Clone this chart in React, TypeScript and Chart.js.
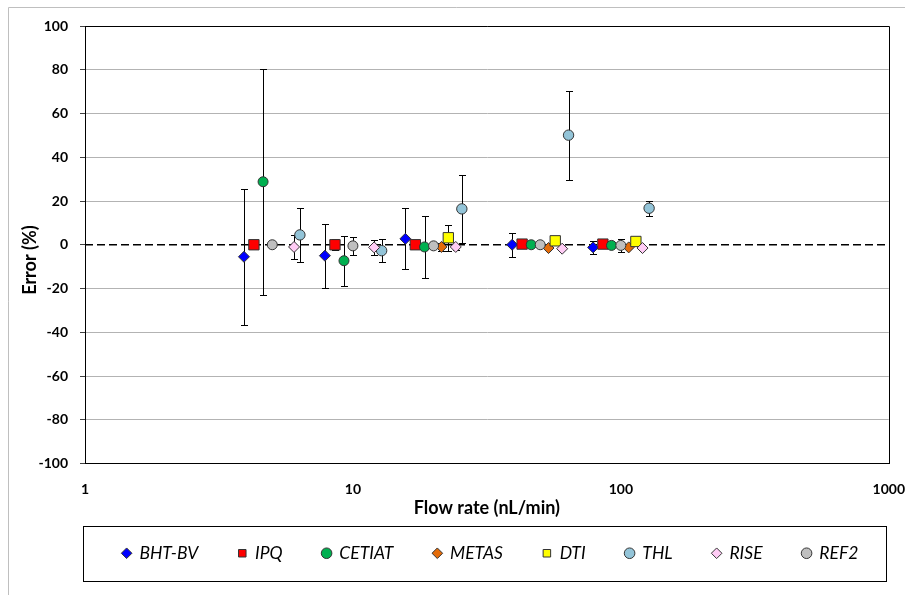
import React, { useEffect, useRef } from 'react';
import { Chart, registerables } from 'chart.js';

Chart.register(...registerables);

// ---------- data ----------
const seriesNames = ['BHT-BV', 'IPQ', 'CETIAT', 'METAS', 'DTI', 'THL', 'RISE', 'REF2'];

const bhtFlow = [3.92, 7.86, 15.7, 39.3, 78.8];
const bhtErr = [-5.5, -5, 2.7, 0, -1.2];
const bhtU = [31, 14.7, 13.9, 5.4, 3];

const ipqFlow = [4.27, 8.57, 17.1, 42.8, 85.7];
const ipqErr = [0, 0, 0, 0.3, 0.3];
const ipqU = [1.5, 2.6, 0, 0, 0];

const cetiatFlow = [4.62, 9.26, 18.5, 46.3, 92.3];
const cetiatErr = [28.8, -7.3, -1, 0, -0.3];
const cetiatU = [51.7, 11.4, 14, 0, 0];

const metasFlow = [21.4, 53.7, 107];
const metasErr = [-1, -1.5, -1.2];
const metasU = [2, 0, 0];

const dtiFlow = [22.7, 56.9, 113.8];
const dtiErr = [3.2, 1.8, 1.5];
const dtiU = [6, 0, 0];

const thlFlow = [6.34, 12.8, 25.5, 63.8, 127.5];
const thlErr = [4.5, -2.7, 16.4, 50.1, 16.7];
const thlU = [12.5, 5.3, 15.5, 20.4, 3.5];

const riseFlow = [6.03, 12, 24.2, 60.4, 120.5];
const riseErr = [-1, -1.2, -1, -1.8, -1.5];
const riseU = [5.3, 3.6, 1.5, 0, 0];

const ref2Flow = [5, 10, 20, 50, 100];
const ref2Err = [0, -0.5, -0.5, 0, -0.3];
const ref2U = [0, 4, 0, 0, 2.8];

const zeroLineFlow = [1, 1000];
const zeroLineErr = [0, 0];

const xTickValues = [1, 10, 100, 1000];
const yMin = -100;
const yMax = 100;
const yStep = 20;

const seriesFlows = [bhtFlow, ipqFlow, cetiatFlow, metasFlow, dtiFlow, thlFlow, riseFlow, ref2Flow];
const seriesErrs = [bhtErr, ipqErr, cetiatErr, metasErr, dtiErr, thlErr, riseErr, ref2Err];
const seriesUs = [bhtU, ipqU, cetiatU, metasU, dtiU, thlU, riseU, ref2U];

// ---------- styles ----------
const seriesStyles = [
  { pointStyle: 'rectRot', radius: 5.5, color: '#0000ff' },
  { pointStyle: 'rect', radius: 7.3, color: '#ff0000' },
  { pointStyle: 'circle', radius: 5, color: '#00b050' },
  { pointStyle: 'rectRot', radius: 5.5, color: '#e46c0a' },
  { pointStyle: 'rect', radius: 7.3, color: '#ffff00' },
  { pointStyle: 'circle', radius: 5.2, color: '#93c4d8' },
  { pointStyle: 'rectRot', radius: 5.5, color: '#ffccf5' },
  { pointStyle: 'circle', radius: 5, color: '#bfbfbf' },
];

const FONT = 'Lato, "Open Sans", "DejaVu Sans", sans-serif';
const W = 905;
const H = 595;

const errorBarPlugin = {
  id: 'errorBars',
  beforeDatasetsDraw(chart: any) {
    const { ctx, scales } = chart;
    const x = scales.x;
    const y = scales.y;
    ctx.save();
    const ca = chart.chartArea;
    ctx.strokeStyle = '#000';
    ctx.lineWidth = 1;
    ctx.beginPath();
    ctx.moveTo(Math.round(ca.left), Math.round(ca.top) + 0.5);
    ctx.lineTo(Math.round(ca.right) + 0.5, Math.round(ca.top) + 0.5);
    ctx.lineTo(Math.round(ca.right) + 0.5, Math.round(ca.bottom));
    ctx.stroke();
    chart.data.datasets.forEach((ds: any) => {
      if (!ds.uncert) return;
      ds.data.forEach((p: any, j: number) => {
        const u = ds.uncert[j];
        if (!u) return;
        const px = Math.round(x.getPixelForValue(p.x)) + 0.5;
        const yt = Math.round(y.getPixelForValue(p.y + u)) + 0.5;
        const yb = Math.round(y.getPixelForValue(p.y - u)) + 0.5;
        ctx.beginPath();
        ctx.moveTo(px, yt);
        ctx.lineTo(px, yb);
        ctx.moveTo(px - 3.5, yt);
        ctx.lineTo(px + 3.5, yt);
        ctx.moveTo(px - 3.5, yb);
        ctx.lineTo(px + 3.5, yb);
        ctx.stroke();
      });
    });
    ctx.restore();
  },
  afterLayout(chart: any) {
    const lg = chart.legend;
    if (lg) {
      lg.left += 38;
      lg.right += 38;
    }
  },
  afterDraw(chart: any) {
    const { ctx } = chart;
    ctx.save();
    ctx.strokeStyle = '#bfbfbf';
    ctx.lineWidth = 1;
    ctx.beginPath();
    ctx.moveTo(8.5, H);
    ctx.lineTo(8.5, 7.5);
    ctx.lineTo(W, 7.5);
    ctx.stroke();
    ctx.strokeStyle = '#000';
    ctx.strokeRect(83.5, 526.5, 803, 55);
    ctx.restore();
  },
};

export default function App() {
  const ref = useRef<HTMLCanvasElement | null>(null);

  useEffect(() => {
    if (!ref.current) return;
    const datasets: any[] = seriesNames.map((name, i) => ({
      type: 'scatter',
      label: name,
      data: seriesFlows[i].map((fx, j) => ({ x: fx, y: seriesErrs[i][j] })),
      uncert: seriesUs[i],
      pointStyle: seriesStyles[i].pointStyle,
      pointRadius: seriesStyles[i].radius,
      pointHoverRadius: seriesStyles[i].radius,
      backgroundColor: seriesStyles[i].color,
      borderColor: '#333333',
      borderWidth: 1,
      showLine: false,
      order: 10 - i,
    }));
    datasets.push({
      type: 'line',
      label: 'zero',
      data: zeroLineFlow.map((fx, j) => ({ x: fx, y: zeroLineErr[j] })),
      borderColor: '#000000',
      borderWidth: 1.3,
      borderDash: [8, 4],
      pointRadius: 0,
      showLine: true,
      fill: false,
      order: 100,
    });

    const chart = new Chart(ref.current, {
      type: 'scatter',
      data: { datasets },
      plugins: [errorBarPlugin],
      options: {
        responsive: false,
        animation: false,
        devicePixelRatio: 1,
        layout: { padding: { top: 26, left: 0, right: 0, bottom: 23 } },
        plugins: {
          tooltip: { enabled: false },
          legend: {
            display: true,
            position: 'bottom',
            maxHeight: 70,
            labels: {
              usePointStyle: true,
              boxHeight: 7.5,
              boxWidth: 8,
              padding: 40,
              color: '#000',
              font: { family: FONT, size: 17.5, style: 'italic' },
              filter: (item: any) => item.datasetIndex < seriesNames.length,
              sort: (a: any, b: any) => a.datasetIndex - b.datasetIndex,
            },
          },
        },
        scales: {
          x: {
            type: 'logarithmic',
            min: 1,
            max: 1000,
            afterBuildTicks: (s: any) => {
              s.ticks = xTickValues.map((v) => ({ value: v }));
            },
            afterFit: (s: any) => {
              s.height = 41;
            },
            grid: {
              display: true,
              drawOnChartArea: false,
              drawTicks: true,
              tickLength: 18,
              color: 'rgba(0,0,0,0)',
              tickColor: 'rgba(0,0,0,0)',
            },
            border: { display: true, color: '#000', width: 1 },
            ticks: {
              autoSkip: false,
              maxRotation: 0,
              padding: 0,
              color: '#000',
              font: { family: FONT, size: 14, weight: 'bold' },
              callback: (v: any) => String(v),
            },
            title: {
              display: true,
              text: 'Flow rate (nL/min)',
              color: '#000',
              font: { family: FONT, size: 18, weight: 'bold' },
              padding: { top: 0, bottom: -14 },
            },
          },
          y: {
            min: yMin,
            max: yMax,
            afterFit: (s: any) => {
              s.width = 85;
            },
            ticks: {
              stepSize: yStep,
              padding: 12,
              color: '#000',
              font: { family: FONT, size: 14, weight: 'bold' },
            },
            grid: {
              color: (c: any) => (c.tick && c.tick.value === 0 ? 'rgba(0,0,0,0)' : '#b3b3b3'),
              tickColor: '#404040',
              tickLength: 5,
              drawTicks: true,
            },
            border: { display: true, color: '#000', width: 1 },
            title: {
              display: true,
              text: 'Error (%)\u00a0\u00a0\u00a0\u00a0\u00a0\u00a0\u00a0',
              color: '#000',
              font: { family: FONT, size: 18, weight: 'bold' },
              padding: { top: 19, bottom: 0 },
            },
          },
        },
      } as any,
    });
    return () => chart.destroy();
  }, []);

  return (
    <canvas
      ref={ref}
      width={W}
      height={H}
      style={{ position: 'fixed', left: 0, top: 0, width: W, height: H, display: 'block' }}
    />
  );
}
